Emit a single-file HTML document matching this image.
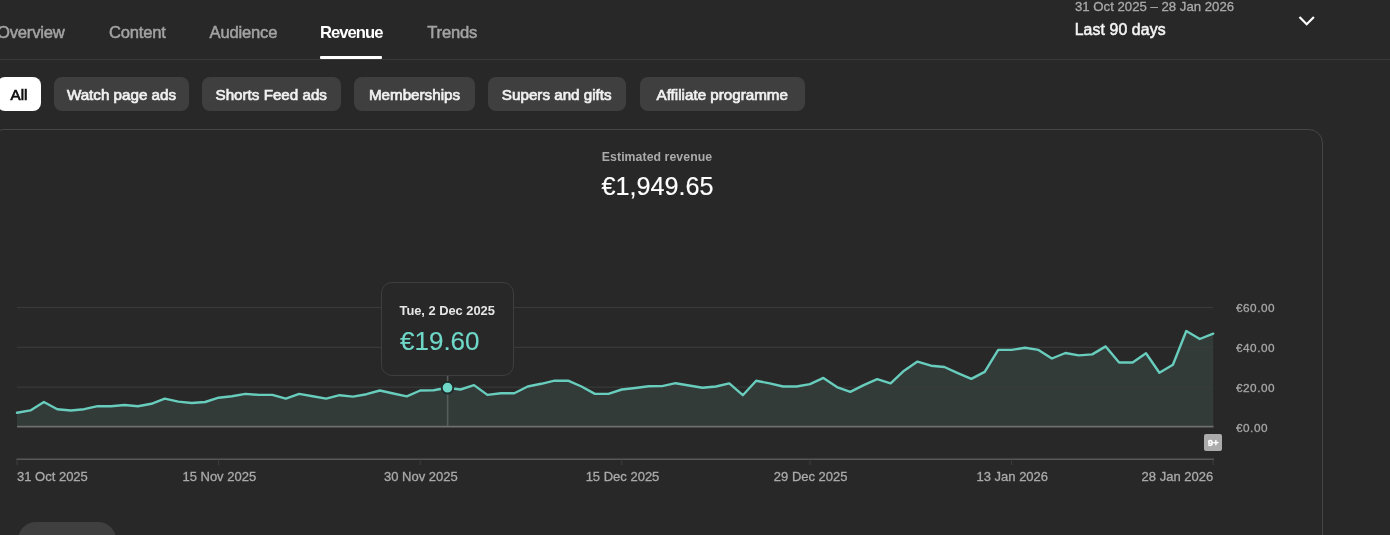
<!DOCTYPE html>
<html><head><meta charset="utf-8"><title>Revenue</title>
<style>
html,body{margin:0;padding:0;}
body{width:1390px;height:535px;overflow:hidden;background:#282828;font-family:"Liberation Sans",sans-serif;position:relative;color:#fff;}
div{position:absolute;white-space:nowrap;box-sizing:border-box;will-change:opacity;}
.tab{top:22.8px;font-size:16.6px;line-height:20px;color:#a3a3a3;font-weight:400;letter-spacing:-0.2px;-webkit-text-stroke:0.5px #a3a3a3;}
.tab.sel{color:#fff;font-weight:700;letter-spacing:-0.95px;-webkit-text-stroke:0;}
.chip{top:77px;height:34px;border-radius:8px;background:#3f3f3f;color:#f1f1f1;font-weight:400;font-size:15.2px;line-height:36px;text-align:center;letter-spacing:0px;-webkit-text-stroke:0.7px #f1f1f1;}
.chip span{display:inline-block;will-change:opacity;}
.chip.sel{background:#fff;color:#0f0f0f;-webkit-text-stroke:0.7px #0f0f0f;}
.xl{top:469.4px;font-size:13px;line-height:16px;color:#aaa;-webkit-text-stroke:0.3px #aaa;}
.yl{left:1236px;font-size:11.8px;line-height:16px;color:#a6a6a6;letter-spacing:0.5px;-webkit-text-stroke:0.3px #a6a6a6;}
</style></head><body>
<div class="tab" style="left:-3px">Overview</div>
<div class="tab" style="left:109px">Content</div>
<div class="tab" style="left:209.6px">Audience</div>
<div class="tab sel" style="left:320px">Revenue</div>
<div class="tab" style="left:427.3px">Trends</div>

<div style="left:320px;top:56px;width:62px;height:2.7px;background:#fff;border-radius:1px"></div>
<div style="left:0;top:58.8px;width:1390px;height:1.4px;background:#393939"></div>
<div style="left:1075px;top:-1.5px;font-size:13.2px;line-height:16px;color:#aaa;-webkit-text-stroke:0.3px #aaa">31 Oct 2025 – 28 Jan 2026</div>
<div style="left:1074.7px;top:19.7px;font-size:15.8px;line-height:20px;color:#f4f4f4;font-weight:400;letter-spacing:0.12px;-webkit-text-stroke:0.55px #f4f4f4">Last 90 days</div>
<svg style="position:absolute;left:1296px;top:12px" width="22" height="18" viewBox="0 0 22 18"><path d="M3.5 5 L10.7 12.2 L17.9 5" fill="none" stroke="#fff" stroke-width="2.2"/></svg>
<div class="chip sel" style="left:-3px;width:44px"><span>All</span></div>
<div class="chip" style="left:54px;width:135px"><span>Watch page ads</span></div>
<div class="chip" style="left:202px;width:138.5px"><span>Shorts Feed ads</span></div>
<div class="chip" style="left:354px;width:121px"><span>Memberships</span></div>
<div class="chip" style="left:487.5px;width:138.5px"><span>Supers and gifts</span></div>
<div class="chip" style="left:639.5px;width:165.5px"><span>Affiliate programme</span></div>

<div style="left:-10px;top:129px;width:1333.4px;height:440px;border:1px solid #464646;border-radius:14px;"></div>
<div style="left:457px;top:150.1px;width:400px;text-align:center;font-size:12.3px;line-height:14px;font-weight:700;color:#aaa;letter-spacing:0.06px">Estimated revenue</div>
<div style="left:457.5px;top:170.8px;width:400px;text-align:center;font-size:25.2px;line-height:30px;color:#fff;-webkit-text-stroke:0.15px #fff">€1,949.65</div>
<svg style="position:absolute;left:0;top:0" width="1390" height="535" viewBox="0 0 1390 535">
<polygon points="17.0,427 17.0,412.7 30.4,410.4 43.9,402.0 57.3,409.2 70.8,410.5 84.2,409.2 97.6,406.2 111.1,406.2 124.5,405.0 138.0,406.2 151.4,403.8 164.8,398.6 178.3,401.6 191.7,403.0 205.2,402.0 218.6,397.7 232.0,396.2 245.5,393.9 258.9,394.9 272.4,394.9 285.8,398.6 299.2,393.9 312.7,396.2 326.1,398.6 339.6,395.2 353.0,396.6 366.5,394.2 379.9,390.5 393.3,393.5 406.8,396.4 420.2,390.5 433.7,390.2 447.1,387.8 460.5,389.5 474.0,385.1 487.4,394.9 500.9,393.2 514.3,393.2 527.7,386.5 541.2,383.8 554.6,380.7 568.1,380.7 581.5,386.5 594.9,393.9 608.4,393.9 621.8,389.5 635.3,388.0 648.7,386.3 662.1,386.1 675.6,383.2 689.0,385.5 702.5,387.8 715.9,386.5 729.3,383.4 742.8,395.2 756.2,380.7 769.7,383.4 783.1,386.5 796.5,386.5 810.0,384.1 823.4,377.9 836.9,387.1 850.3,391.9 863.7,385.1 877.2,379.1 890.6,383.4 904.1,370.7 917.5,361.6 931.0,365.7 944.4,367.0 957.8,373.1 971.3,378.9 984.7,371.9 998.2,349.9 1011.6,349.9 1025.0,347.8 1038.5,349.9 1051.9,358.5 1065.4,353.0 1078.8,355.4 1092.2,354.4 1105.7,346.4 1119.1,362.5 1132.6,362.5 1146.0,353.3 1159.4,372.7 1172.9,364.8 1186.3,331.0 1199.8,339.0 1213.2,333.7 1213.2,427" fill="#80b8b0" fill-opacity="0.135"/>
<g stroke="#3c3d3d" stroke-width="1">
<line x1="17" y1="307.4" x2="1213" y2="307.4"/><line x1="17" y1="347.3" x2="1213" y2="347.3"/><line x1="17" y1="387.1" x2="1213" y2="387.1"/>
</g>
<line x1="17" y1="426.7" x2="1213.5" y2="426.7" stroke="#6e6e6e" stroke-width="1.7"/>
<line x1="447.6" y1="376" x2="447.6" y2="426" stroke="#565b5b" stroke-width="1.6"/>
<polyline points="17.0,412.7 30.4,410.4 43.9,402.0 57.3,409.2 70.8,410.5 84.2,409.2 97.6,406.2 111.1,406.2 124.5,405.0 138.0,406.2 151.4,403.8 164.8,398.6 178.3,401.6 191.7,403.0 205.2,402.0 218.6,397.7 232.0,396.2 245.5,393.9 258.9,394.9 272.4,394.9 285.8,398.6 299.2,393.9 312.7,396.2 326.1,398.6 339.6,395.2 353.0,396.6 366.5,394.2 379.9,390.5 393.3,393.5 406.8,396.4 420.2,390.5 433.7,390.2 447.1,387.8 460.5,389.5 474.0,385.1 487.4,394.9 500.9,393.2 514.3,393.2 527.7,386.5 541.2,383.8 554.6,380.7 568.1,380.7 581.5,386.5 594.9,393.9 608.4,393.9 621.8,389.5 635.3,388.0 648.7,386.3 662.1,386.1 675.6,383.2 689.0,385.5 702.5,387.8 715.9,386.5 729.3,383.4 742.8,395.2 756.2,380.7 769.7,383.4 783.1,386.5 796.5,386.5 810.0,384.1 823.4,377.9 836.9,387.1 850.3,391.9 863.7,385.1 877.2,379.1 890.6,383.4 904.1,370.7 917.5,361.6 931.0,365.7 944.4,367.0 957.8,373.1 971.3,378.9 984.7,371.9 998.2,349.9 1011.6,349.9 1025.0,347.8 1038.5,349.9 1051.9,358.5 1065.4,353.0 1078.8,355.4 1092.2,354.4 1105.7,346.4 1119.1,362.5 1132.6,362.5 1146.0,353.3 1159.4,372.7 1172.9,364.8 1186.3,331.0 1199.8,339.0 1213.2,333.7" fill="none" stroke="#68cdbd" stroke-width="2.4" stroke-linejoin="round" stroke-linecap="round"/>
<circle cx="447.5" cy="387.7" r="5.8" fill="#6fd8c8" stroke="#1f2b2a" stroke-width="1.9"/>
<line x1="16.5" y1="459.3" x2="1214" y2="459.3" stroke="#585858" stroke-width="1.5"/>
<line x1="17.0" y1="459.5" x2="17.0" y2="465" stroke="#3e3e3e" stroke-width="1"/><line x1="218.6" y1="459.5" x2="218.6" y2="465" stroke="#3e3e3e" stroke-width="1"/><line x1="420.2" y1="459.5" x2="420.2" y2="465" stroke="#3e3e3e" stroke-width="1"/><line x1="621.8" y1="459.5" x2="621.8" y2="465" stroke="#3e3e3e" stroke-width="1"/><line x1="810.0" y1="459.5" x2="810.0" y2="465" stroke="#3e3e3e" stroke-width="1"/><line x1="1011.6" y1="459.5" x2="1011.6" y2="465" stroke="#3e3e3e" stroke-width="1"/><line x1="1213.2" y1="459.5" x2="1213.2" y2="465" stroke="#3e3e3e" stroke-width="1"/>
</svg>
<div style="left:381px;top:281.8px;width:133px;height:94.2px;background:#282828;border:1px solid #3e3e3e;border-radius:11px;"></div>
<div style="left:399.5px;top:303px;font-size:12.9px;line-height:16px;font-weight:700;color:#e6e6e6;letter-spacing:-0.03px">Tue, 2 Dec 2025</div>
<div style="left:400px;top:326px;font-size:26px;line-height:30px;color:#6fd8c8;-webkit-text-stroke:0.15px #6fd8c8">€19.60</div>
<div class="xl" style="left:17.0px">31 Oct 2025</div>
<div class="xl" style="left:119.3px;width:200px;text-align:center">15 Nov 2025</div>
<div class="xl" style="left:320.9px;width:200px;text-align:center">30 Nov 2025</div>
<div class="xl" style="left:522.5px;width:200px;text-align:center">15 Dec 2025</div>
<div class="xl" style="left:710.7px;width:200px;text-align:center">29 Dec 2025</div>
<div class="xl" style="left:912.3px;width:200px;text-align:center">13 Jan 2026</div>
<div class="xl" style="left:1013.2px;width:200px;text-align:right">28 Jan 2026</div>

<div class="yl" style="top:299.8px">€60.00</div>
<div class="yl" style="top:339.8px">€40.00</div>
<div class="yl" style="top:379.8px">€20.00</div>
<div class="yl" style="top:419.8px">€0.00</div>

<div style="left:1204.4px;top:434.3px;width:17.5px;height:16.8px;background:#ababab;border-radius:2px;color:#fff;font-size:9.6px;font-weight:700;line-height:17px;text-align:center;letter-spacing:0px;-webkit-text-stroke:0.3px #fff"><span style="display:inline-block;will-change:opacity">9+</span></div>
<div style="left:18px;top:522px;width:97.5px;height:40px;background:#3f3f3f;border-radius:18px;"></div>
</body></html>
